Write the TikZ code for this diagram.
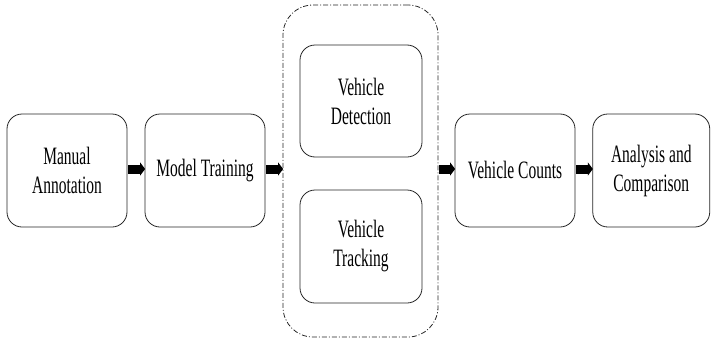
\documentclass[tikz,border=0pt]{standalone}
\usepackage{fontspec}
\setmainfont{Liberation Serif}[FakeStretch=0.62]
\usetikzlibrary{arrows.meta}
\begin{document}
\begin{tikzpicture}[x=1pt,y=1pt,
  box/.style={draw=black!85, line width=0.8pt, rounded corners=15pt, fill=white,
    inner sep=0pt, align=center, font=\fontsize{25}{29}\selectfont},
  flow/.style={line width=9pt, -{Triangle[length=5pt,width=13pt]}, black, shorten >=-0.5pt, shorten <=1pt}]
\useasboundingbox (0,0) rectangle (711,341);
\node[draw=black!85, line width=0.8pt, rounded corners=30pt,
  dash pattern=on 5pt off 2pt on 1pt off 2pt,
  minimum width=155pt, minimum height=332pt, inner sep=0pt] (grp) at (360.5,170) {};
\node[box, minimum width=120pt, minimum height=113pt] (ann) at (67,170.5) {Manual\\Annotation};
\node[box, minimum width=120pt, minimum height=113pt] (train) at (205,170.5) {Model Training};
\node[box, minimum width=122pt, minimum height=112pt] (det) at (361,240) {Vehicle\\Detection};
\node[box, minimum width=122pt, minimum height=113pt] (trk) at (361,94.5) {Vehicle\\Tracking};
\node[box, minimum width=120pt, minimum height=113pt] (cnt) at (515,170.5) {Vehicle Counts};
\node[box, minimum width=117pt, minimum height=113pt] (ana) at (651.25,170.5) {Analysis and\\Comparison};
\draw[flow] (ann.east |- 0,172) -- (train.west |- 0,172);
\draw[flow] (train.east |- 0,172) -- (grp.west |- 0,172);
\draw[flow] (grp.east |- 0,172) -- (cnt.west |- 0,172);
\draw[flow] (cnt.east |- 0,172) -- (ana.west |- 0,172);
\end{tikzpicture}
\end{document}
